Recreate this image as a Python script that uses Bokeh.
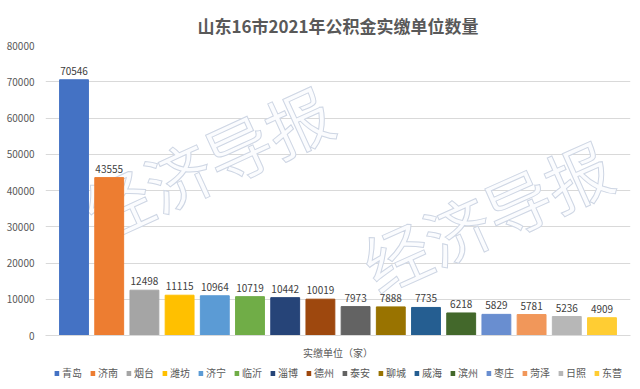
from bokeh.plotting import figure
from bokeh.models import (ColumnDataSource, Legend, LegendItem, Label,
                          FactorRange, Range1d)
from bokeh.layouts import column
from bokeh.embed import file_html
from bokeh.resources import INLINE
from bokeh.core.properties import value

title_text = "山东16市2021年公积金实缴单位数量"
cities = ["青岛", "济南", "烟台", "潍坊", "济宁", "临沂", "淄博", "德州",
          "泰安", "聊城", "威海", "滨州", "枣庄", "菏泽", "日照", "东营"]
units = [70546, 43555, 12498, 11115, 10964, 10719, 10442, 10019,
         7973, 7888, 7735, 6218, 5829, 5781, 5236, 4909]
colors = ["#4472C4", "#ED7D31", "#A5A5A5", "#FFC000", "#5B9BD5", "#70AD47",
          "#264478", "#9E480E", "#636363", "#997300", "#255E91", "#43682B",
          "#698ED0", "#F1975A", "#B7B7B7", "#FFCD33"]
y_ticks = [0, 10000, 20000, 30000, 40000, 50000, 60000, 70000, 80000]

FONT = "Noto Sans CJK SC"

p = figure(x_range=FactorRange(factors=cities, range_padding=0.31,
                               range_padding_units="absolute"),
           y_range=(0, 80000), width=640, height=362,
           output_backend="svg", toolbar_location=None,
           min_border_left=45, min_border_right=10, min_border_top=45,
           min_border_bottom=5)
p.title.text = title_text
p.title.align = "center"
p.title.text_font = FONT
p.title.text_font_size = "17px"
p.title.text_font_style = "bold"
p.title.text_color = "#595959"
p.title.standoff = 15
p.outline_line_color = None

src = ColumnDataSource(dict(city=cities, units=units, color=colors,
                            label=[str(u) for u in units]))

# watermark
for xx, yy, ang in [(1.45, 21000, 0.43), (9.35, 6500, 0.42)]:
    p.add_layout(Label(x=xx, y=yy, text="经济导报", angle=ang,
                       text_font=FONT, text_font_size="66px",
                       text_color="#FBFCFE", text_outline_color="#CED6E4",
                       level="underlay"))

r = p.vbar(x="city", top="units", width=0.82, color="color", source=src)
p.text(x="city", y="units", text="label", source=src, text_align="center",
       text_baseline="bottom", y_offset=-5, text_font=value(FONT),
       text_font_size="10px", text_color="#404040")

p.yaxis.ticker = y_ticks
p.yaxis.axis_line_color = None
p.yaxis.major_tick_line_color = None
p.yaxis.minor_tick_line_color = None
p.yaxis.major_label_text_font = FONT
p.yaxis.major_label_text_font_size = "10px"
p.yaxis.major_label_text_color = "#595959"

p.xaxis.axis_line_color = "#D9D9D9"
p.xaxis.major_tick_line_color = None
p.xaxis.major_label_text_font_size = "1px"
p.xaxis.major_label_text_color = None
p.xaxis.major_label_standoff = 0
p.xaxis.axis_label = "实缴单位（家）"
p.xaxis.axis_label_text_font = FONT
p.xaxis.axis_label_text_font_size = "10px"
p.xaxis.axis_label_text_font_style = "normal"
p.xaxis.axis_label_text_color = "#595959"
p.xaxis.axis_label_standoff = 3

p.xgrid.grid_line_color = None
p.ygrid.grid_line_color = "#D9D9D9"

# legend strip (swatches come from zero-height bars kept outside the view)
lsrc = ColumnDataSource(dict(city=cities, color=colors,
                             zero=[0] * len(cities)))
lg = figure(x_range=FactorRange(factors=cities), y_range=Range1d(10, 11),
            width=640, height=27, output_backend="svg", toolbar_location=None,
            x_axis_location=None, y_axis_location=None,
            min_border_left=0, min_border_right=0, min_border_top=0,
            min_border_bottom=0)
lg.outline_line_color = None
lg.grid.grid_line_color = None
lr = lg.vbar(x="city", top="zero", bottom="zero", width=0.8,
             fill_color="color", line_color=None, source=lsrc)
items = [LegendItem(label=c, renderers=[lr], index=i) for i, c in enumerate(cities)]
legend = Legend(items=items, orientation="horizontal", location="top_center",
                label_text_font=FONT, label_text_font_size="10px",
                label_text_color="#595959", glyph_width=6, glyph_height=6,
                label_height=12, label_standoff=3, spacing=7, padding=0,
                margin=3, border_line_color=None, background_fill_alpha=0)
lg.add_layout(legend, "center")

open("out.html", "w").write(file_html(column(p, lg), INLINE))
